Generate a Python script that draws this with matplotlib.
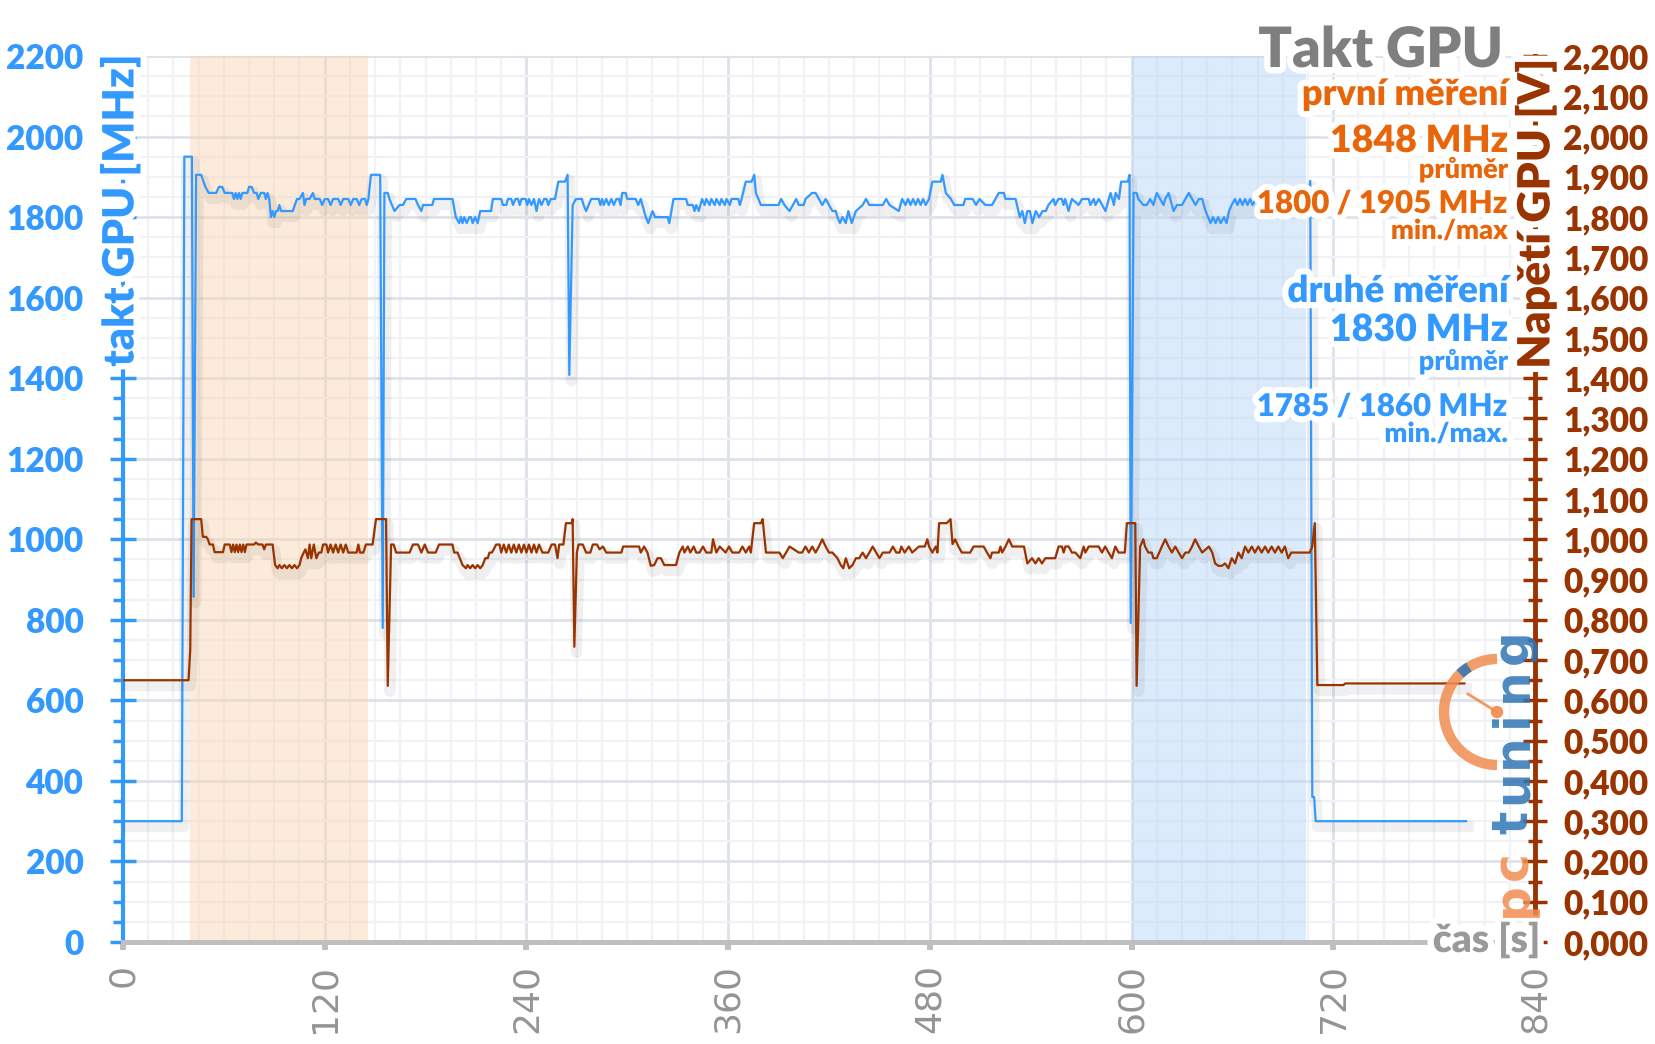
import numpy as np
import matplotlib
matplotlib.use("Agg")
import matplotlib.pyplot as plt
import matplotlib.patheffects as pe
from matplotlib.ticker import MultipleLocator, FuncFormatter
from matplotlib.patches import Arc, Circle

plt.rcParams['font.family'] = ['Lato', 'DejaVu Sans']
plt.rcParams['font.weight'] = 'heavy'

BLUE = "#3399FF"
BROWN = "#993300"
ORANGE = "#E8650A"
GRAY = "#7F7F7F"

# takt GPU [MHz] v case [s]
clock = np.array([
    (0, 300), (35, 300), (36.5, 1950), (41, 1950), (42, 857), (43.5, 1905), (46.5, 1905), (49, 1875),
    (51, 1860), (55.5, 1860), (57, 1875), (59, 1875), (60.5, 1860), (65, 1860), (66, 1845), (67, 1860),
    (68, 1845), (69, 1860), (70, 1845), (71, 1860), (74, 1860), (75, 1875), (76.5, 1875), (78, 1860),
    (79.5, 1860), (80.5, 1845), (82, 1860), (84, 1860), (85, 1845), (86, 1860), (87, 1845), (88, 1800),
    (89, 1815), (90, 1800), (91, 1815), (92, 1815), (93, 1830), (94, 1815), (101, 1815), (103.5, 1845),
    (105, 1845), (107, 1860), (108, 1830), (109, 1845), (111, 1845), (113, 1860), (114, 1845), (117, 1845),
    (118.5, 1830), (120, 1845), (122, 1845), (123.5, 1830), (125, 1845), (128, 1845), (129.5, 1830),
    (131, 1845), (134, 1845), (135.5, 1830), (137, 1845), (139, 1845), (140.5, 1830), (142, 1845),
    (144, 1845), (145, 1830), (146, 1845), (147.5, 1905), (153, 1905), (154.5, 780), (155.5, 1860),
    (157.5, 1860), (158.5, 1845), (161.5, 1815), (164.5, 1830), (166.5, 1830), (168.5, 1845), (174, 1845),
    (175.5, 1830), (177.5, 1815), (178.5, 1830), (184, 1830), (185, 1845), (196, 1845), (198, 1800),
    (200, 1785), (201, 1800), (202, 1785), (203, 1800), (204.5, 1785), (206, 1800), (207, 1800),
    (208, 1785), (209.5, 1800), (211, 1785), (212.5, 1815), (219, 1815), (220, 1845), (225, 1845),
    (226, 1830), (228, 1830), (229, 1845), (231, 1845), (232, 1830), (233.5, 1845), (235, 1845),
    (236, 1830), (237, 1845), (239.5, 1845), (240.5, 1830), (241.5, 1845), (243, 1830), (244.5, 1845),
    (246, 1815), (247.5, 1845), (249, 1830), (250.5, 1845), (252, 1845), (253, 1830), (254.5, 1845),
    (257, 1845), (259, 1888), (263, 1888), (264.5, 1905), (265.5, 1408), (267.5, 1830), (269.5, 1845),
    (273, 1845), (274, 1830), (275.5, 1815), (278.5, 1845), (283, 1845), (284, 1830), (285, 1845),
    (286, 1830), (287.5, 1845), (289, 1830), (290.5, 1845), (292, 1830), (293.5, 1845), (295, 1845),
    (296, 1830), (297, 1860), (299, 1860), (300, 1845), (305, 1845), (306.5, 1830), (308, 1845),
    (309, 1830), (311, 1800), (312.5, 1785), (315, 1815), (316.5, 1800), (324, 1800), (325, 1785),
    (327.5, 1845), (335, 1845), (336, 1830), (339, 1830), (340, 1815), (341, 1830), (342.5, 1815),
    (344.5, 1845), (346, 1830), (347, 1845), (349, 1830), (350, 1845), (352, 1830), (353, 1845),
    (355, 1830), (356, 1845), (358, 1830), (359, 1845), (361, 1830), (362, 1845), (366, 1845),
    (367, 1830), (368, 1845), (370.5, 1888), (374, 1888), (375.5, 1905), (376.5, 1860), (378, 1845),
    (379.5, 1830), (390, 1830), (391.5, 1845), (393.5, 1830), (396.5, 1815), (398.5, 1830), (400.5, 1845),
    (402, 1830), (405, 1830), (406, 1845), (410, 1860), (412, 1860), (414, 1845), (416, 1830), (418, 1845),
    (420, 1830), (422, 1815), (424, 1815), (425, 1800), (426.5, 1785), (428, 1800), (430, 1785),
    (431.5, 1815), (433.5, 1785), (436, 1815), (440, 1830), (442, 1845), (444, 1830), (452, 1830),
    (454, 1845), (456, 1830), (461.5, 1815), (463.5, 1845), (465.5, 1830), (467, 1845), (468.5, 1830),
    (470, 1845), (471.5, 1830), (473, 1845), (474.5, 1830), (476, 1845), (477.5, 1830), (479.5, 1845),
    (481.5, 1888), (486.5, 1888), (487.5, 1905), (489.5, 1860), (492.5, 1845), (494.5, 1830), (500, 1830),
    (501, 1845), (505.5, 1845), (507.5, 1830), (509.5, 1845), (513, 1830), (517, 1830), (519, 1845),
    (521, 1860), (524, 1860), (525, 1845), (531, 1845), (533.5, 1800), (535, 1815), (536.5, 1785),
    (538, 1815), (539.5, 1815), (541, 1785), (543, 1815), (545, 1800), (547, 1815), (549, 1815),
    (550.5, 1830), (553.5, 1845), (554.5, 1830), (556.5, 1845), (558.5, 1845), (559.5, 1830), (560.5, 1845),
    (562.5, 1815), (563.5, 1830), (564.5, 1845), (568.5, 1830), (570.5, 1845), (574.5, 1845), (575.5, 1830),
    (577.5, 1845), (578.5, 1830), (580.5, 1845), (584.5, 1815), (586.5, 1845), (587.5, 1860), (589.5, 1830),
    (590.5, 1860), (592.5, 1845), (593.8, 1888), (597.8, 1888), (598.8, 1905), (599.5, 792), (601.2, 1860),
    (603, 1860), (604, 1845), (607, 1830), (609, 1830), (611, 1845), (613, 1830), (615, 1860), (617, 1845),
    (619, 1830), (620, 1845), (622, 1860), (624, 1830), (625, 1815), (627, 1830), (630, 1830), (632, 1845),
    (634, 1860), (636, 1845), (638, 1830), (640, 1845), (642, 1845), (644, 1815), (645.5, 1800),
    (647, 1785), (648.5, 1800), (650, 1785), (651.5, 1800), (653, 1785), (655, 1800), (656.5, 1785),
    (658, 1815), (659.5, 1830), (661.5, 1845), (663, 1830), (664.5, 1845), (666, 1830), (667.5, 1845),
    (669, 1830), (670.5, 1845), (672, 1830), (674, 1845), (676, 1830), (678, 1845), (680, 1845),
    (682, 1830), (684, 1845), (686, 1830), (688, 1845), (690, 1845), (692, 1830), (694, 1845),
    (697, 1845), (699, 1830), (701, 1845), (705, 1845), (706.3, 1890), (707, 1000), (707.5, 360),
    (708.6, 360), (709.5, 300), (799, 300)])

# napeti GPU [V] v case [s]
volt = np.array([
    (0, 0.650), (39, 0.650), (40, 0.725), (40.8, 1.050), (46.5, 1.050), (47.5, 1.006), (49.5, 1.006),
    (50.5, 1.000), (51.5, 0.987), (53.5, 0.987), (54.5, 0.968), (59.5, 0.968), (60.5, 0.987), (63.5, 0.987),
    (64.5, 0.968), (65.5, 0.987), (66.5, 0.968), (67.5, 0.987), (68.5, 0.968), (69.5, 0.987), (70.5, 0.968),
    (71.5, 0.987), (72.5, 0.968), (73.5, 0.987), (78, 0.987), (79, 0.992), (80.5, 0.987), (83, 0.987),
    (84, 0.975), (85, 0.987), (89, 0.987), (90.5, 0.936), (92, 0.928), (93, 0.936), (94.5, 0.928),
    (96, 0.936), (97.5, 0.928), (99, 0.936), (100.5, 0.928), (102, 0.936), (103.5, 0.928), (105, 0.936),
    (106, 0.953), (107.5, 0.967), (108.5, 0.975), (110, 0.953), (111, 0.987), (112, 0.953), (113.5, 0.987),
    (115, 0.953), (116.5, 0.967), (118, 0.967), (119, 0.987), (121, 0.987), (122, 0.967), (123.5, 0.987),
    (125, 0.967), (126.5, 0.987), (128, 0.967), (129.5, 0.987), (131, 0.967), (132.5, 0.987), (134, 0.967),
    (139, 0.967), (140, 0.987), (141, 0.967), (143, 0.967), (144.5, 0.987), (148.5, 0.987), (150.5, 1.050),
    (156.5, 1.050), (157.5, 0.636), (159.5, 0.987), (161, 0.987), (162.5, 0.967), (170.5, 0.967),
    (172.5, 0.987), (175.5, 0.987), (177.5, 0.967), (179.5, 0.987), (181.5, 0.967), (186, 0.967),
    (188, 0.987), (196, 0.987), (197, 0.967), (199, 0.967), (202, 0.936), (204, 0.928), (205, 0.936),
    (206.5, 0.928), (208, 0.936), (209.5, 0.928), (211, 0.936), (212.5, 0.928), (214, 0.936), (215.5, 0.953),
    (217, 0.953), (218, 0.967), (219.5, 0.967), (222, 0.987), (224, 0.987), (225, 0.967), (226.5, 0.987),
    (228, 0.967), (229.5, 0.987), (231, 0.967), (232.5, 0.987), (234, 0.967), (235.5, 0.987), (237, 0.967),
    (238.5, 0.987), (240, 0.967), (241.5, 0.987), (243, 0.967), (244.5, 0.987), (246, 0.967), (247.5, 0.987),
    (249.5, 0.967), (253, 0.967), (255, 0.987), (257, 0.987), (258.5, 0.953), (259.5, 0.987), (262, 0.987),
    (263.5, 1.040), (267, 1.040), (267.5, 1.050), (268.5, 0.733), (270, 0.967), (271, 0.987), (273.5, 0.987),
    (275.5, 0.967), (278, 0.967), (279.5, 0.987), (282, 0.987), (283.5, 0.975), (285.5, 0.982),
    (287.5, 0.967), (296.5, 0.967), (297.5, 0.982), (307, 0.982), (308, 0.967), (310, 0.982), (312, 0.967),
    (314, 0.934), (316, 0.936), (318, 0.953), (320, 0.953), (322, 0.936), (329, 0.936), (331, 0.967),
    (333, 0.982), (334, 0.967), (336, 0.982), (337.5, 0.967), (339.5, 0.982), (341, 0.967), (343, 0.967),
    (345, 0.982), (347, 0.967), (350, 0.967), (351, 1.000), (353, 0.967), (355, 0.982), (358.5, 0.967),
    (360.5, 0.982), (362.5, 0.967), (366.5, 0.967), (368.5, 0.982), (370.5, 0.967), (372.5, 0.982),
    (373.5, 0.967), (375.5, 1.040), (379.5, 1.040), (380.5, 1.050), (382.5, 0.967), (390.5, 0.967),
    (392.5, 0.953), (394.5, 0.967), (396.5, 0.982), (402, 0.967), (404, 0.967), (406, 0.982), (408, 0.967),
    (410, 0.982), (412, 0.967), (414, 0.982), (416, 1.000), (418, 0.982), (420, 0.967), (422, 0.967),
    (425, 0.953), (427, 0.936), (428.5, 0.928), (430, 0.953), (432, 0.928), (434, 0.936), (436, 0.953),
    (438, 0.953), (440, 0.967), (442, 0.953), (444, 0.967), (446, 0.982), (450, 0.953), (452, 0.967),
    (456, 0.967), (458, 0.982), (460, 0.967), (462, 0.967), (463, 0.982), (465, 0.967), (467.5, 0.982),
    (469.5, 0.967), (473.5, 0.982), (477, 0.982), (478.5, 1.000), (479.5, 0.982), (481.5, 0.967),
    (483.5, 0.982), (484.5, 0.967), (485.5, 1.040), (490, 1.040), (492.3, 1.050), (493.5, 0.988),
    (495, 1.000), (497, 0.982), (499, 0.967), (504, 0.967), (506, 0.982), (512, 0.982), (514, 0.967),
    (516, 0.953), (517, 0.967), (521, 0.967), (522, 0.982), (523, 0.967), (525, 0.982), (527, 1.000),
    (529, 0.982), (536, 0.982), (538, 0.940), (540.8, 0.953), (542.8, 0.940), (544.7, 0.953),
    (546.7, 0.940), (548.7, 0.953), (554.6, 0.953), (556.6, 0.982), (558.6, 0.982), (559.6, 0.967),
    (560.6, 0.982), (562.6, 0.982), (564.5, 0.967), (566.5, 0.967), (569.5, 0.953), (571.5, 0.982),
    (572.5, 0.967), (574.5, 0.982), (580.4, 0.982), (582.4, 0.967), (584.3, 0.982), (586.3, 0.967),
    (588.3, 0.953), (590.3, 0.982), (592.3, 0.967), (596, 0.967), (597.2, 1.040), (602.2, 1.040),
    (603, 0.636), (605.1, 0.982), (607, 1.000), (608, 0.982), (610, 0.967), (612, 0.967), (613, 0.953),
    (615, 0.953), (618, 0.982), (620, 1.000), (622, 0.982), (624, 0.967), (626, 0.982), (628, 0.967),
    (630, 0.953), (632, 0.967), (634, 0.967), (636, 0.982), (637.8, 1.000), (640, 0.982), (642, 0.967),
    (646, 0.982), (648, 0.967), (649.7, 0.940), (651.7, 0.934), (653.7, 0.934), (655.6, 0.940),
    (657.6, 0.928), (659.6, 0.953), (661.6, 0.940), (663.5, 0.967), (665.5, 0.953), (667.5, 0.982),
    (669.5, 0.967), (671.5, 0.982), (673.4, 0.967), (675.4, 0.982), (677.4, 0.967), (679.4, 0.982),
    (681.3, 0.967), (683.3, 0.982), (685.3, 0.967), (687.3, 0.982), (689.3, 0.967), (691.2, 0.982),
    (693.2, 0.953), (695, 0.967), (706, 0.967), (707.5, 0.982), (709, 1.040), (710.5, 0.638),
    (726, 0.638), (727, 0.642), (798, 0.642)])

# useky mereni (s)
first_run = (40, 146)
second_run = (600, 704)

# popisky vpravo nahore: text, barva, velikost, baseline (px)
notes = [
    ("Takt GPU", GRAY, 40, 67),
    ("první měření", ORANGE, 26, 105),
    ("1848 MHz", ORANGE, 27, 152),
    ("průměr", ORANGE, 19.5, 178),
    ("1800 / 1905 MHz", ORANGE, 22.5, 213),
    ("min./max", ORANGE, 19.5, 239),
    ("druhé měření", BLUE, 26.5, 302),
    ("1830 MHz", BLUE, 27, 341),
    ("průměr", BLUE, 19.5, 370),
    ("1785 / 1860 MHz", BLUE, 22.5, 416),
    ("min./max.", BLUE, 19.5, 442),
]

W, H = 1656, 1044
fig = plt.figure(figsize=(W / 100, H / 100), dpi=100)
ax = fig.add_axes([123 / W, 102 / H, (1535 - 123) / W, 886 / H])
ax2 = ax.twinx()

glow = [pe.withStroke(linewidth=9, foreground="white")]
shadow = [pe.SimpleLineShadow(offset=(1.5, -4), shadow_color="k", alpha=0.06, linewidth=8), pe.Normal()]

ax.axvspan(*first_run, color="#FAD4AE", alpha=0.45, lw=0, zorder=1.6)
ax.axvspan(*second_run, color="#B3D4F7", alpha=0.45, lw=0, zorder=1.6)

ax.plot(clock[:, 0], clock[:, 1], color=BLUE, lw=1.6, zorder=3, path_effects=shadow)
ax2.plot(volt[:, 0], volt[:, 1], color=BROWN, lw=1.6, zorder=3, path_effects=shadow)

ax.set_xlim(0, 840)
ax.set_ylim(0, 2200)
ax2.set_ylim(0, 2.2)

ax.xaxis.set_major_locator(MultipleLocator(120))
ax.xaxis.set_minor_locator(MultipleLocator(15))
ax.yaxis.set_major_locator(MultipleLocator(200))
ax.yaxis.set_minor_locator(MultipleLocator(50))
ax2.yaxis.set_major_locator(MultipleLocator(0.1))
ax2.yaxis.set_minor_locator(MultipleLocator(0.05))
ax2.yaxis.set_major_formatter(FuncFormatter(lambda v, p: f"{v:.3f}".replace(".", ",")))

ax.grid(which="major", color="#DEE2E9", lw=2.0, zorder=1)
ax.grid(which="minor", color="#F0F2F5", lw=1.6, zorder=1)
ax.set_axisbelow(True)

for s in ["top", "right"]:
    ax.spines[s].set_visible(False)
for s in ["top", "left", "bottom"]:
    ax2.spines[s].set_visible(False)
ax.spines["left"].set_color(BLUE)
ax.spines["left"].set_linewidth(3)
ax.spines["bottom"].set_color("#BFBFBF")
ax.spines["bottom"].set_linewidth(3.6)
ax2.spines["right"].set_color(BROWN)
ax2.spines["right"].set_linewidth(3.5)

ax.tick_params(axis="x", which="major", direction="out", length=6, width=4.3, color="#BFBFBF",
               labelcolor="#949494", labelsize=26, labelrotation=90, pad=10)
ax.tick_params(axis="x", which="minor", length=0)
ax.tick_params(axis="y", which="major", direction="inout", length=19, width=2.5, color=BLUE,
               labelcolor=BLUE, labelsize=24, pad=19)
ax.tick_params(axis="y", which="minor", direction="out", length=7, width=2.5, color=BLUE)
ax2.tick_params(axis="y", which="major", direction="inout", length=17, width=2.5, color=BROWN,
                labelcolor=BROWN, labelsize=24, pad=12)
ax2.tick_params(axis="y", which="minor", direction="inout", length=10, width=2.5, color=BROWN)
for lab in ax.get_xticklabels():
    lab.set_fontfamily(["Liberation Sans Narrow", "DejaVu Sans"])
    lab.set_fontweight("normal")

# vrstva pro popisky v pixelech
ov = fig.add_axes([0, 0, 1, 1], zorder=10)
ov.set_xlim(0, W)
ov.set_ylim(H, 0)
ov.axis("off")

for txt, col, size, y in notes:
    xr = 1503 if txt == "Takt GPU" else 1508
    ov.text(xr, y, txt, color=col, fontsize=size, ha="right", va="baseline", path_effects=glow)

ov.text(120, 55, "takt GPU [MHz]", rotation=90, rotation_mode="anchor", ha="right", va="center",
        fontsize=31, color=BLUE, path_effects=glow)
ov.text(1536, 58, "Napětí GPU [V]", rotation=90, rotation_mode="anchor", ha="right", va="center",
        fontsize=32, color=BROWN, path_effects=glow)
ov.text(1540, 952, "čas [s]", ha="right", va="baseline", fontsize=28, color="#9A9A9A", path_effects=glow)

# logo
lo = "#F28C50"
lb = "#2F75B5"
ov.add_patch(Arc((1497, 712), 106, 106, theta1=90, theta2=270, lw=7.5, color=lo, alpha=0.85))
ov.add_patch(Arc((1497, 712), 106, 106, theta1=226, theta2=238, lw=7.5, color=lb, alpha=0.85))
ov.plot([1497, 1468], [712, 694], color=lo, lw=2, alpha=0.9)
ov.add_patch(Circle((1497, 712), 5.5, color=lo, alpha=0.9))
logo_chars = "pctuning"
logo_pos = [900, 866, 822, 787, 751, 719, 685, 647]
for ch, yy in zip(logo_chars, logo_pos):
    ov.text(1527, yy, ch, rotation=90, rotation_mode="anchor", ha="center", va="baseline",
            fontsize=35, color=lo if ch in "pc" and yy > 850 else lb, alpha=0.85,
            family="DejaVu Sans", weight="bold")

fig.savefig("out.png", dpi=100)
